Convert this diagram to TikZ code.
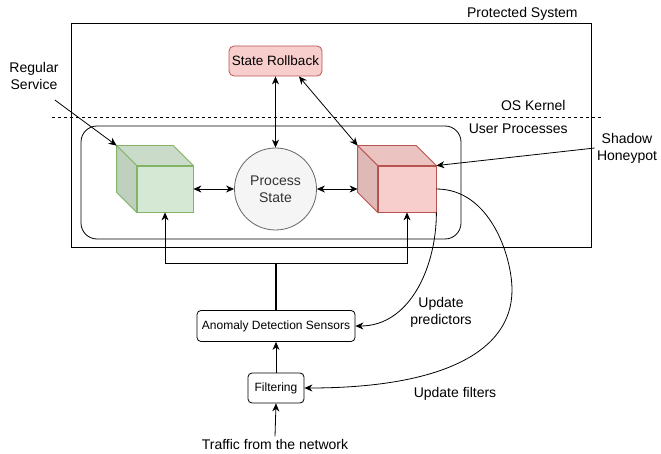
\documentclass[tikz,border=0pt]{standalone}
\usepackage{fontspec}
\setmainfont{Liberation Sans}
\usepackage{tikz}
\usetikzlibrary{positioning}
\usetikzlibrary{arrows.meta}
\usetikzlibrary{calc}

\definecolor{redfill}{HTML}{F8CECC}
\definecolor{redtop}{HTML}{EBC3C1}
\definecolor{redside}{HTML}{DFB9B8}
\definecolor{redline}{HTML}{B85450}
\definecolor{greenfill}{HTML}{D5E8D4}
\definecolor{greentop}{HTML}{CADCC9}
\definecolor{greenside}{HTML}{BFD1BE}
\definecolor{greenline}{HTML}{82B366}
\definecolor{stategray}{HTML}{F5F5F5}
\definecolor{stateline}{HTML}{666666}
\definecolor{statetext}{HTML}{333333}

\begin{document}
\begin{tikzpicture}[x=1pt, y=1pt, line width=0.8pt, >={Stealth[length=8pt,width=7pt,inset=2.5pt]},
  box/.style={draw, rounded corners=4pt, inner sep=0pt, font=\fontsize{12}{14}\selectfont},
  lbl/.style={inner sep=2pt, align=center, font=\fontsize{14}{17}\selectfont}]

	\useasboundingbox (0,0) rectangle (661,453);

	% Containers
	\node[draw, minimum width=520, minimum height=224, inner sep=0pt] (sys) at (331,318) {};
	\node[lbl, anchor=east] (psys) at (580,439) {Protected System};
	\node[draw, rounded corners=16pt, minimum width=380, minimum height=113, inner sep=0pt] (up) at (271,270.5) {};
	\node[lbl, anchor=east] (uplbl) at (570,324) {User Processes};

	% Kernel boundary
	\coordinate (k1) at (52,336);
	\coordinate (k2) at (601,336);
	\draw[dashed] (k1) -- (k2);
	\node[lbl, anchor=east] (oskern) at (568,348) {OS Kernel};

	\node[box, fill=redfill, draw=redline, rounded corners=5pt, minimum width=93, minimum height=30, font=\fontsize{13.5}{16}\selectfont] (srb) at (275.5,392) {State Rollback};
	\node[circle, draw=stateline, fill=stategray, text=statetext, minimum size=82, inner sep=0pt, align=center, font=\fontsize{14}{17}\selectfont] (pstate) at (275.5,264) {Process\\State};

	% Front faces of the cubes
	\node[draw=greenline, fill=greenfill, minimum width=56, minimum height=46, inner sep=0pt] (gcube) at (165,264) {};
	\node[draw=redline, fill=redfill, minimum width=58, minimum height=46, inner sep=0pt] (rcube) at (407,264) {};
	\foreach \c/\t/\s/\l in {gcube/greentop/greenside/greenline, rcube/redtop/redside/redline} {
		\filldraw[fill=\t, draw=\l] (\c.north west) -- ++(-20,20) -| ($(\c.north east)+(-20,20)$) -- (\c.north east) -- cycle;
		\filldraw[fill=\s, draw=\l] (\c.north west) -- ++(-20,20) -- ($(\c.south west)+(-20,20)$) -- (\c.south west) -- cycle;
	}
	\coordinate (gback) at ($(gcube.north west)+(-20,20)$);
	\coordinate (rback) at ($(rcube.north west)+(-20,20)$);
	\coordinate (rleft) at ($(rcube.west)+(-20,0)$);

	% Lower part
	\node[box, minimum width=158, minimum height=31] (ads) at (276,127) {Anomaly Detection Sensors};
	\node[box, minimum width=56, minimum height=30] (filt) at (276,65) {Filtering};
	\node[lbl] (traffic) at (275,9) {Traffic from the network};

	% Free labels
	\node[lbl] (rsvc) at (34,377) {Regular\\Service};
	\node[lbl] (shp) at (627,305) {Shadow\\Honeypot};
	\node[lbl] (updpred) at (441,141) {Update\\predictors};
	\node[lbl] (updfilt) at (455,59) {Update filters};

	% Connectors
	\draw[<->] (srb.south) -- (pstate.north);
	\draw[<->] ($(srb.south)!0.5!(srb.south east)$) -- (rback);
	\draw[<->] (gcube.east) -- (pstate.west);
	\draw[<->] (pstate.east) -- (rleft);
	\draw[->] ($(rsvc.south east)+(-6,-8)$) -- (gback);
	\draw[->] (shp.west) -- (rcube.north east);

	\coordinate (bus) at (276,190);
	\draw[line width=1.4pt] (ads.north) -- (bus);
	\draw[->] (bus) -| (gcube.south);
	\draw[->] (bus) -| (rcube.south);
	\draw[->] (filt.north) -- (ads.south);
	\draw[->] (traffic.north) -- (filt.south);

	\draw[->] (rcube.south east) to[out=-90, in=0] (ads.east);
	\coordinate (fbend) at (512,163);
	\draw[->] (rcube.east) .. controls +(54,0) and +(0,33) .. (fbend) .. controls +(0,-63) and +(135,0) .. (filt.east);
\end{tikzpicture}
\end{document}
